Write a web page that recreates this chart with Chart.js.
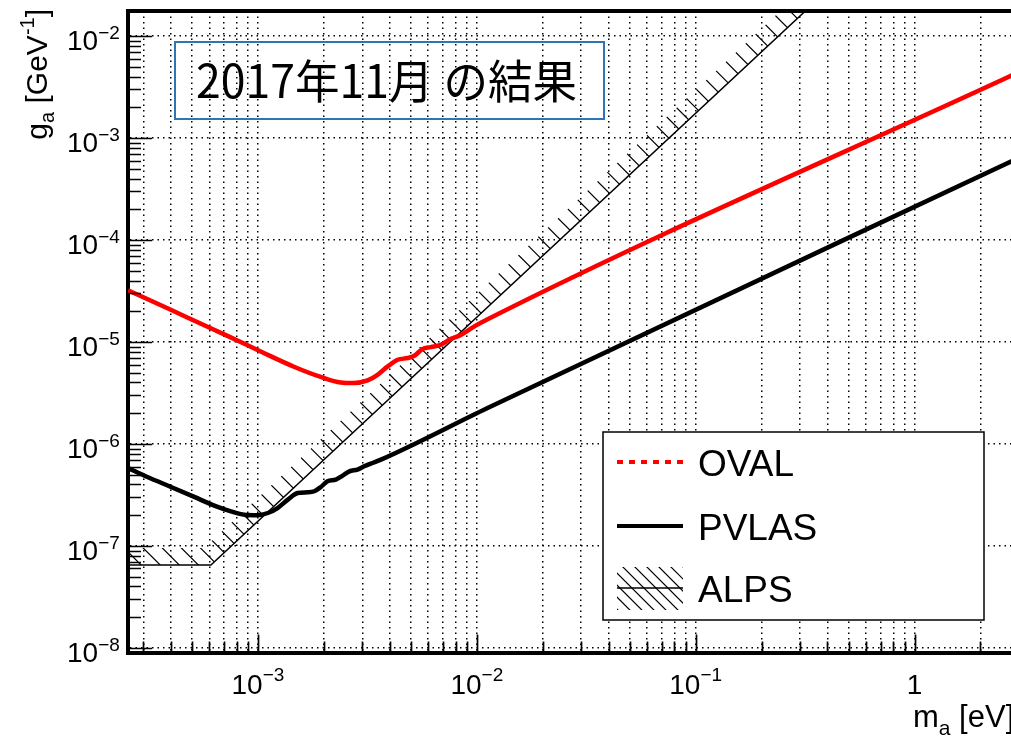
<!DOCTYPE html>
<html>
<head>
<meta charset="utf-8">
<script src="https://cdn.jsdelivr.net/npm/chart.js@4.4.1/dist/chart.umd.min.js"></script>
<style>
  html, body { margin: 0; padding: 0; background: #fff; overflow: hidden; }
  canvas { display: block; }
</style>
</head>
<body>
<canvas id="chart" width="1040" height="737"></canvas>
<script>
// Axion-like particle limits: mass m_a [eV] vs. coupling g_a [GeV^-1]

// OVAL sensitivity curve
const ovalMass = [2.55e-4, 4.0e-4, 5.1e-4, 7.3e-4, 1.03e-3, 1.47e-3, 1.94e-3, 2.39e-3, 2.75e-3,
  3.17e-3, 3.52e-3, 3.92e-3, 4.35e-3, 4.83e-3, 5.18e-3, 5.65e-3, 6.17e-3, 6.85e-3, 7.48e-3,
  8.45e-3, 9.75e-3, 1.12e-2, 3];
const ovalCoupling = [3.2e-5, 2.07e-5, 1.62e-5, 1.14e-5, 8.05e-6, 5.68e-6, 4.53e-6, 4.0e-6, 3.95e-6,
  4.19e-6, 4.76e-6, 5.75e-6, 6.68e-6, 6.95e-6, 7.31e-6, 8.51e-6, 8.89e-6, 9.38e-6, 1.05e-5,
  1.17e-5, 1.42e-5, 1.67e-5, 4.43e-3];

// PVLAS limit
const pvlasMass = [2.55e-4, 3.13e-4, 4.01e-4, 5.12e-4, 6.32e-4, 7.53e-4, 8.67e-4, 9.98e-4, 1.11e-3,
  1.23e-3, 1.37e-3, 1.52e-3, 1.69e-3, 1.81e-3, 1.94e-3, 2.08e-3, 2.27e-3, 2.44e-3, 2.62e-3,
  2.85e-3, 3.06e-3, 3.28e-3, 3.65e-3, 1.12e-2, 3];
const pvlasCoupling = [5.81e-7, 4.73e-7, 3.78e-7, 3.02e-7, 2.48e-7, 2.18e-7, 2.02e-7, 2.0e-7, 2.1e-7,
  2.35e-7, 2.84e-7, 3.3e-7, 3.35e-7, 3.43e-7, 3.78e-7, 4.3e-7, 4.47e-7, 4.89e-7, 5.38e-7,
  5.6e-7, 6.03e-7, 6.41e-7, 7.01e-7, 2.25e-6, 6.4e-4];

// ALPS exclusion boundary
const alpsMass = [1e-4, 6.1e-4, 1];
const alpsCoupling = [6.5e-8, 6.5e-8, 0.175];

// Axis ranges and labelled ticks
const xRange = [2.55e-4, 3];
const yRange = [9.1e-9, 1.758e-2];
const xTickValues = [1e-3, 1e-2, 1e-1, 1];
const xTickLabels = ['10^-3', '10^-2', '10^-1', '1'];
const yTickValues = [1e-8, 1e-7, 1e-6, 1e-5, 1e-4, 1e-3, 1e-2];
const yTickLabels = ['10^-8', '10^-7', '10^-6', '10^-5', '10^-4', '10^-3', '10^-2'];

const seriesNames = ['OVAL', 'PVLAS', 'ALPS'];
const seriesColors = ['#ff0000', '#000000', '#000000'];
const headline = '2017年11月 の結果';

const FONT = '"Liberation Sans", Arial, Helvetica, sans-serif';
const ALPS_INDEX = 2;

function pairs(xs, ys) { return xs.map((x, i) => ({ x: x, y: ys[i] })); }

// all 1..9 x 10^n values inside a range, for log-axis ticks and grid
function logSteps(lo, hi, withMinor) {
  const out = [];
  for (let e = Math.floor(Math.log10(lo)); e <= Math.ceil(Math.log10(hi)); e++) {
    const ks = withMinor ? [1, 2, 3, 4, 5, 6, 7, 8, 9] : [1];
    for (const k of ks) {
      const v = k * Math.pow(10, e);
      if (v >= lo * 0.9999 && v <= hi * 1.0001) out.push(v);
    }
  }
  return out;
}

// text with an optional superscript part written as base^exp
function drawPower(ctx, label, x, baseline, align, bigSize, smallSize, raise) {
  const parts = label.split('^');
  const base = parts[0];
  const exp = parts.length > 1 ? parts[1].replace('-', '\u2212') : '';
  ctx.font = bigSize + 'px ' + FONT;
  const wb = ctx.measureText(base).width;
  ctx.font = smallSize + 'px ' + FONT;
  const we = exp ? ctx.measureText(exp).width : 0;
  let x0 = x;
  if (align === 'center') x0 = x - (wb + we) / 2;
  else if (align === 'right') x0 = x - wb - we;
  ctx.textAlign = 'left';
  ctx.textBaseline = 'alphabetic';
  ctx.font = bigSize + 'px ' + FONT;
  ctx.fillText(base, x0, baseline);
  if (exp) {
    ctx.font = smallSize + 'px ' + FONT;
    ctx.fillText(exp, x0 + wb, baseline - raise);
  }
}

// parallel "\" strokes across a box, `spacing` apart
function strokeHatch(ctx, area, spacing) {
  ctx.beginPath();
  const step = spacing * Math.SQRT2;
  for (let c = area.top - area.right - step; c < area.bottom - area.left + step; c += step) {
    ctx.moveTo(area.left - 5, area.left - 5 + c);
    ctx.lineTo(area.right + 5, area.right + 5 + c);
  }
  ctx.stroke();
}

// hatched band on the excluded side of the ALPS boundary
const hatchBand = {
  id: 'hatchBand',
  afterDatasetDraw(chart, args) {
    if (args.index !== ALPS_INDEX) return;
    const pts = args.meta.data.map(p => ({ x: p.x, y: p.y }));
    const ctx = chart.ctx, a = chart.chartArea;
    const W = 17;
    ctx.save();
    ctx.beginPath();
    ctx.rect(a.left, a.top, a.right - a.left, a.bottom - a.top);
    ctx.clip();
    ctx.beginPath();
    for (let i = 0; i < pts.length - 1; i++) {
      const p0 = pts[i], p1 = pts[i + 1];
      const dx = p1.x - p0.x, dy = p1.y - p0.y, L = Math.hypot(dx, dy);
      const nx = dy / L * W, ny = -dx / L * W;
      ctx.moveTo(p0.x, p0.y);
      ctx.lineTo(p1.x, p1.y);
      ctx.lineTo(p1.x + nx, p1.y + ny);
      ctx.lineTo(p0.x + nx, p0.y + ny);
      ctx.closePath();
    }
    ctx.clip();
    ctx.lineWidth = 1.2;
    ctx.strokeStyle = '#000';
    strokeHatch(ctx, { left: a.left, right: a.right, top: a.top, bottom: a.bottom }, 13.5);
    ctx.restore();
  }
};

const frameAndLabels = {
  id: 'frameAndLabels',
  afterDraw(chart) {
    const ctx = chart.ctx, a = chart.chartArea;
    const xs = chart.scales.x, ys = chart.scales.y;
    ctx.save();

    // top and right edges of the frame
    ctx.strokeStyle = '#000';
    ctx.lineWidth = 4;
    ctx.beginPath();
    ctx.moveTo(a.left - 2, a.top);
    ctx.lineTo(a.right, a.top);
    ctx.lineTo(a.right, a.bottom + 2);
    ctx.stroke();

    // inward tick marks
    ctx.lineWidth = 1.7;
    ctx.beginPath();
    for (const v of logSteps(yRange[0], yRange[1], true)) {
      const y = Math.round(ys.getPixelForValue(v)) + 0.5;
      const major = Math.abs(Math.log10(v) - Math.round(Math.log10(v))) < 1e-6;
      ctx.moveTo(a.left, y);
      ctx.lineTo(a.left + (major ? 24 : 13), y);
    }
    for (const v of logSteps(xRange[0], xRange[1], true)) {
      const x = Math.round(xs.getPixelForValue(v)) + 0.5;
      const major = Math.abs(Math.log10(v) - Math.round(Math.log10(v))) < 1e-6;
      ctx.moveTo(x, a.bottom);
      ctx.lineTo(x, a.bottom - (major ? 18 : 11));
    }
    ctx.stroke();

    // tick labels
    ctx.fillStyle = '#000';
    yTickValues.forEach((v, i) => {
      const y = ys.getPixelForValue(v);
      drawPower(ctx, yTickLabels[i], 67, y + 14, 'left', 28, 19, 11);
    });
    xTickValues.forEach((v, i) => {
      const x = xs.getPixelForValue(v);
      drawPower(ctx, xTickLabels[i], x, 693.5, 'center', 28, 19, 13);
    });

    // x axis title: m_a [eV]
    ctx.textAlign = 'left';
    ctx.textBaseline = 'alphabetic';
    let tx = 913;
    ctx.font = '31px ' + FONT;
    ctx.fillText('m', tx, 727);
    tx += ctx.measureText('m').width;
    ctx.font = '21px ' + FONT;
    ctx.fillText('a', tx, 735);
    tx += ctx.measureText('a').width;
    ctx.font = '31px ' + FONT;
    ctx.fillText(' [eV]', tx, 727);

    // y axis title: g_a [GeV^-1], read bottom to top, ending at the top of the frame
    ctx.save();
    ctx.translate(47, 9);
    ctx.rotate(-Math.PI / 2);
    const segs = [
      { t: 'g', s: 30, dy: 0 },
      { t: 'a', s: 20, dy: 7 },
      { t: ' [GeV', s: 30, dy: 0 },
      { t: '-1', s: 20, dy: -13 },
      { t: ']', s: 30, dy: 0 }
    ];
    let total = 0;
    segs.forEach(sg => { ctx.font = sg.s + 'px ' + FONT; sg.w = ctx.measureText(sg.t).width; total += sg.w; });
    let px = -total;
    segs.forEach(sg => {
      ctx.font = sg.s + 'px ' + FONT;
      ctx.fillText(sg.t, px, sg.dy);
      px += sg.w;
    });
    ctx.restore();

    // headline box
    ctx.strokeStyle = '#2E75B6';
    ctx.lineWidth = 2;
    ctx.strokeRect(175, 42, 429, 77);
    ctx.fillStyle = '#000';
    ctx.font = '46px "Noto Sans CJK JP", "Noto Sans CJK SC", sans-serif';
    ctx.fillText(headline, 196, 98, 381);

    // legend
    const lx = 603, ly = 432, lw = 381, lh = 188;
    ctx.fillStyle = '#fff';
    ctx.fillRect(lx, ly, lw, lh);
    ctx.strokeStyle = '#000';
    ctx.lineWidth = 1.5;
    ctx.strokeRect(lx, ly, lw, lh);
    const rows = [462, 526, 588];
    // OVAL sample
    ctx.strokeStyle = seriesColors[0];
    ctx.lineWidth = 4;
    ctx.setLineDash([6, 6]);
    ctx.beginPath(); ctx.moveTo(617, rows[0]); ctx.lineTo(683, rows[0]); ctx.stroke();
    ctx.setLineDash([]);
    // PVLAS sample
    ctx.strokeStyle = seriesColors[1];
    ctx.beginPath(); ctx.moveTo(617, rows[1]); ctx.lineTo(683, rows[1]); ctx.stroke();
    // ALPS sample
    ctx.save();
    ctx.beginPath(); ctx.rect(617, rows[2] - 21, 66, 43); ctx.clip();
    ctx.strokeStyle = '#000';
    ctx.lineWidth = 1.2;
    strokeHatch(ctx, { left: 617, right: 683, top: rows[2] - 21, bottom: rows[2] + 22 }, 8.5);
    ctx.restore();
    ctx.lineWidth = 1.5;
    ctx.beginPath(); ctx.moveTo(617, rows[2]); ctx.lineTo(683, rows[2]); ctx.stroke();
    // names
    ctx.fillStyle = '#000';
    ctx.font = '37px ' + FONT;
    seriesNames.forEach((n, i) => ctx.fillText(n, 698, rows[i] + 13.5));

    ctx.restore();
  }
};

const gridStyle = { color: '#000', lineWidth: 1.5, drawTicks: false, drawOnChartArea: true };

new Chart(document.getElementById('chart'), {
  type: 'line',
  data: {
    datasets: [
      { label: seriesNames[0], data: pairs(ovalMass, ovalCoupling), borderColor: seriesColors[0],
        borderWidth: 4.5, pointRadius: 0, cubicInterpolationMode: 'monotone', fill: false },
      { label: seriesNames[1], data: pairs(pvlasMass, pvlasCoupling), borderColor: seriesColors[1],
        borderWidth: 4.5, pointRadius: 0, cubicInterpolationMode: 'monotone', fill: false },
      { label: seriesNames[2], data: pairs(alpsMass, alpsCoupling), borderColor: seriesColors[2],
        borderWidth: 1.5, pointRadius: 0, tension: 0, fill: false }
    ]
  },
  options: {
    responsive: false,
    animation: false,
    devicePixelRatio: 1,
    layout: { autoPadding: false, padding: { left: 128, top: 11, right: 21, bottom: 84.5 } },
    plugins: { legend: { display: false }, tooltip: { enabled: false } },
    events: [],
    scales: {
      x: {
        type: 'logarithmic', min: xRange[0], max: xRange[1],
        afterBuildTicks: s => { s.ticks = logSteps(xRange[0], xRange[1], true).map(v => ({ value: v })); },
        ticks: { display: false },
        grid: gridStyle,
        border: { display: true, width: 4, color: '#000', dash: [1.5, 4] }
      },
      y: {
        type: 'logarithmic', min: yRange[0], max: yRange[1],
        afterBuildTicks: s => { s.ticks = logSteps(yRange[0], yRange[1], false).map(v => ({ value: v })); },
        ticks: { display: false },
        grid: gridStyle,
        border: { display: true, width: 4, color: '#000', dash: [1.5, 4] }
      }
    }
  },
  plugins: [hatchBand, frameAndLabels]
});
</script>
</body>
</html>
